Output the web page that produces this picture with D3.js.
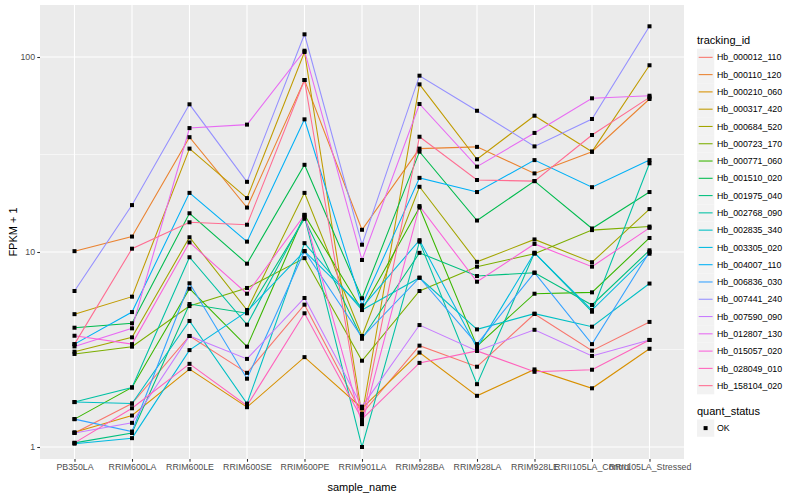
<!DOCTYPE html>
<html><head><meta charset="utf-8">
<script src="https://cdn.jsdelivr.net/npm/d3@7"></script>
<style>body{margin:0;background:#fff} text{font-family:"Liberation Sans",Arial,Helvetica,sans-serif}</style>
</head><body><svg id="c" width="800" height="500"></svg>
<script>
// ---- data ----
const samples = ["PB350LA","RRIM600LA","RRIM600LE","RRIM600SE","RRIM600PE","RRIM901LA","RRIM928BA","RRIM928LA","RRIM928LE","RRII105LA_Control","RRII105LA_Stressed"];
const trackingIds = ["Hb_000012_110","Hb_000110_120","Hb_000210_060","Hb_000317_420","Hb_000684_520","Hb_000723_170","Hb_000771_060","Hb_001510_020","Hb_001975_040","Hb_002768_090","Hb_002835_340","Hb_003305_020","Hb_004007_110","Hb_006836_030","Hb_007441_240","Hb_007590_090","Hb_012807_130","Hb_015057_020","Hb_028049_010","Hb_158104_020"];
const Hb_000012_110 = [1.18,1.67,3.71,2.40,5.37,1.48,3.31,2.58,4.81,3.12,4.38];
const Hb_000110_120 = [10.1,12.0,38.8,16.9,76.2,13.0,33.9,34.6,25.3,32.7,60.9];
const Hb_000210_060 = [1.19,1.45,2.51,1.60,2.89,1.58,3.05,1.83,2.50,2.00,3.19];
const Hb_000317_420 = [4.80,5.90,33.9,18.9,106.1,1.45,72.4,29.9,50.0,32.7,90.7];
const Hb_000684_520 = [3.08,3.65,11.9,5.04,20.1,3.71,21.6,8.9,11.6,8.86,16.6];
const Hb_000723_170 = [3.00,3.27,5.28,6.54,9.3,2.77,6.31,8.41,9.8,12.95,13.5];
const Hb_000771_060 = [1.39,2.02,6.48,3.27,15.5,5.04,16.9,3.29,6.11,6.21,11.8];
const Hb_001510_020 = [4.09,4.31,15.8,8.71,28.0,5.79,32.7,14.5,23.1,13.2,20.3];
const Hb_001975_040 = [1.05,1.18,5.41,4.85,14.8,3.59,9.9,7.53,7.83,5.35,10.2];
const Hb_002768_090 = [1.70,2.02,9.4,4.24,15.2,1.00,11.3,2.10,9.9,4.94,28.5];
const Hb_002835_340 = [1.70,1.67,4.43,1.67,11.1,5.04,7.38,4.01,4.83,4.14,6.89];
const Hb_003305_020 = [1.04,1.11,3.14,4.96,10.1,5.20,11.5,3.22,9.9,5.04,9.8];
const Hb_004007_110 = [3.37,4.92,20.1,11.3,47.9,5.33,24.0,20.3,29.6,21.5,29.6];
const Hb_006836_030 = [1.39,1.20,6.91,2.24,10.1,3.65,7.38,3.37,7.83,3.37,10.0];
const Hb_007441_240 = [6.31,17.4,57.2,22.9,130.7,10.9,80.2,53.0,34.8,48.1,143.7];
const Hb_007590_090 = [1.18,1.33,3.71,2.83,5.81,1.61,4.22,3.11,3.99,2.93,3.54];
const Hb_012807_130 = [3.28,4.06,43.2,45.0,107.7,9.1,57.4,27.4,40.8,61.4,63.3];
const Hb_015057_020 = [3.72,3.37,11.2,6.11,15.5,1.31,17.2,7.04,11.0,8.41,13.3];
const Hb_028049_010 = [1.05,1.58,2.67,1.63,4.85,1.39,2.70,3.11,2.43,2.49,3.54];
const Hb_158104_020 = [3.37,10.4,14.2,13.8,76.2,1.35,39.0,23.4,23.1,39.8,62.1];
const yTicks = [1,10,100];
const yMinor = [Math.sqrt(10), Math.sqrt(1000)];
const quantStatus = ["OK"];

const seriesValues = [Hb_000012_110,Hb_000110_120,Hb_000210_060,Hb_000317_420,Hb_000684_520,Hb_000723_170,Hb_000771_060,Hb_001510_020,Hb_001975_040,Hb_002768_090,Hb_002835_340,Hb_003305_020,Hb_004007_110,Hb_006836_030,Hb_007441_240,Hb_007590_090,Hb_012807_130,Hb_015057_020,Hb_028049_010,Hb_158104_020];
const palette = ["#F8766D","#EA8331","#D89000","#C09B00","#A3A500","#7CAE00","#39B600","#00BB4E","#00BF7D","#00C1A3","#00BFC4","#00BAE0","#00B0F6","#35A2FF","#9590FF","#C77CFF","#E76BF3","#FA62DB","#FF62BC","#FF6C91"];

// ---- layout ----
const svg = d3.select("#c");
const P = {l:40, r:684, t:5, b:459};
const x = d3.scalePoint().domain(samples).range([P.l, P.r]).padding(0.6);
const y = d3.scaleLog().domain([1,100]).range([447,57]);
const color = d3.scaleOrdinal().domain(trackingIds).range(palette);

svg.append("rect").attr("x",P.l).attr("y",P.t).attr("width",P.r-P.l).attr("height",P.b-P.t).attr("fill","#EBEBEB");
const g = svg.append("g");
g.selectAll(".ymin").data(yMinor).join("line").attr("x1",P.l).attr("x2",P.r)
  .attr("y1",d=>y(d)).attr("y2",d=>y(d)).attr("stroke","#fff").attr("stroke-width",0.55);
g.selectAll(".ymaj").data(yTicks).join("line").attr("x1",P.l).attr("x2",P.r)
  .attr("y1",d=>y(d)).attr("y2",d=>y(d)).attr("stroke","#fff").attr("stroke-width",1.1);
g.selectAll(".xmaj").data(samples).join("line").attr("y1",P.t).attr("y2",P.b)
  .attr("x1",d=>x(d)).attr("x2",d=>x(d)).attr("stroke","#fff").attr("stroke-width",1.1);

const series = trackingIds.map((id,i)=>({id, values: seriesValues[i]}));
const line = d3.line().x((d,i)=>x(samples[i])).y(d=>y(d));
g.selectAll(".ln").data(series).join("path").attr("d",d=>line(d.values))
  .attr("fill","none").attr("stroke",d=>color(d.id)).attr("stroke-width",1.07);
const pts = series.flatMap(s=>s.values.map((v,i)=>({v, s:samples[i]})));
g.selectAll(".pt").data(pts).join("rect").attr("x",d=>x(d.s)-2).attr("y",d=>y(d.v)-2)
  .attr("width",4).attr("height",4).attr("fill","#000");

// axes
const yAxis = d3.axisLeft(y).tickValues(yTicks).tickFormat(d3.format("d")).tickSize(2.75).tickPadding(2.2);
const ya = svg.append("g").attr("transform",`translate(${P.l},0)`).call(yAxis);
const xAxis = d3.axisBottom(x).tickSize(2.75).tickPadding(2.2);
const xa = svg.append("g").attr("transform",`translate(0,${P.b})`).call(xAxis);
[ya,xa].forEach(a=>{a.select(".domain").remove();
  a.selectAll(".tick line").attr("stroke","#333").attr("stroke-width",1.07);
  a.selectAll("text").attr("fill","#4D4D4D").attr("font-size","8.8px");});

svg.append("text").attr("x",(P.l+P.r)/2).attr("y",491).attr("text-anchor","middle")
  .attr("font-size","11px").attr("fill","#000").text("sample_name");
svg.append("text").attr("transform",`translate(17,${(P.t+P.b)/2}) rotate(-90)`).attr("text-anchor","middle")
  .attr("font-size","11px").attr("fill","#000").text("FPKM + 1");

// legend
const L = svg.append("g").attr("transform","translate(697,0)");
L.append("text").attr("x",0).attr("y",44).attr("font-size","11px").text("tracking_id");
const ent = L.selectAll(".le").data(trackingIds).join("g")
  .attr("transform",(d,i)=>`translate(0,${48.7+i*17.28})`);
ent.append("rect").attr("width",17.28).attr("height",17.28).attr("fill","#F2F2F2");
ent.append("line").attr("x1",1.7).attr("x2",15.6).attr("y1",8.64).attr("y2",8.64)
  .attr("stroke",d=>color(d)).attr("stroke-width",1.07);
ent.append("text").attr("x",20).attr("y",11.8).attr("font-size","8.8px").attr("fill","#000").text(d=>d);

L.append("text").attr("x",0).attr("y",415).attr("font-size","11px").text("quant_status");
const q = L.selectAll(".q").data(quantStatus).join("g").attr("transform","translate(0,419.5)");
q.append("rect").attr("width",17.28).attr("height",17.28).attr("fill","#F2F2F2");
q.append("rect").attr("x",6.6).attr("y",6.6).attr("width",4).attr("height",4).attr("fill","#000");
q.append("text").attr("x",20).attr("y",11.8).attr("font-size","8.8px").attr("fill","#000").text(d=>d);
</script></body></html>
